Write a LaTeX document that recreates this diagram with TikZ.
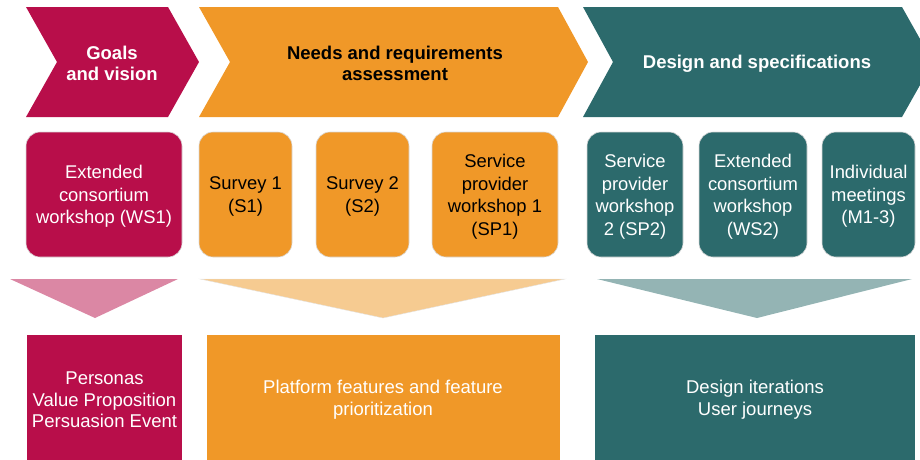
\documentclass[tikz,border=0pt]{standalone}
\usepackage{fontspec}
\setmainfont{Liberation Sans}
\definecolor{crim}{RGB}{184,14,74}
\definecolor{org}{RGB}{240,152,40}
\definecolor{tealc}{RGB}{44,106,108}
\definecolor{lcrim}{RGB}{219,135,164}
\definecolor{lorg}{RGB}{246,203,145}
\definecolor{lteal}{RGB}{148,180,180}
\begin{document}
\begin{tikzpicture}[x=1pt,y=-1pt,
  head/.style={font=\fontsize{18.5}{21.5}\selectfont\bfseries, align=center},
  act/.style={rounded corners=14pt, draw=black!15, line width=0.6pt,
     minimum height=125pt, inner sep=0pt},
  acttext/.style={align=center, font=\fontsize{18.4}{22.5}\selectfont, inner sep=0pt, yshift=-2pt},
  restext/.style={font=\fontsize{18.5}{21.7}\selectfont, align=center, text=white}]
\useasboundingbox (0,0) rectangle (920,459);
% chevrons
\fill[crim] (26,7) -- (168,7) -- (199,62) -- (168,117) -- (26,117) -- (57,62) -- cycle;
\fill[org] (199,7) -- (558,7) -- (588,62) -- (558,117) -- (199,117) -- (230,62) -- cycle;
\fill[tealc] (583,7) -- (902,7) -- (933,62) -- (902,117) -- (583,117) -- (613,62) -- cycle;
\node[head, text=white] (goals) at (112,63.5) {Goals\\and vision};
\node[head, text=black] (needs) at (395,63.5) {Needs and requirements\\assessment};
\node[head, text=white] (design) at (757,63.5) {Design and specifications};
% activity boxes
\node[act, fill=crim, minimum width=156pt] (ws1) at (104,194.5) {};
\node[act, fill=org, minimum width=93pt] (s1) at (245.5,194.5) {};
\node[act, fill=org, minimum width=93pt] (s2) at (362.5,194.5) {};
\node[act, fill=org, minimum width=126pt] (sp1) at (495,194.5) {};
\node[act, fill=tealc, minimum width=96pt] (sp2) at (635,194.5) {};
\node[act, fill=tealc, minimum width=108pt] (ws2) at (753,194.5) {};
\node[act, fill=tealc, minimum width=93pt] (m13) at (868.5,194.5) {};
\node[acttext, text=white] (t1) at (ws1) {Extended\\consortium\\workshop (WS1)};
\node[acttext, text=black] (t2) at (s1) {Survey 1\\(S1)};
\node[acttext, text=black] (t3) at (s2) {Survey 2\\(S2)};
\node[acttext, text=black] (t4) at (sp1) {Service\\provider\\workshop 1\\(SP1)};
\node[acttext, text=white] (t5) at (sp2) {Service\\provider\\workshop\\2 (SP2)};
\node[acttext, text=white] (t6) at (ws2) {Extended\\consortium\\workshop\\(WS2)};
\node[acttext, text=white] (t7) at (m13) {Individual\\meetings\\(M1-3)};
% triangles
\fill[lcrim] (10,279) -- (178,279) -- (95,318) -- cycle;
\filldraw[lorg, draw=black!10] (200,279) -- (565,279) -- (383,318) -- cycle;
\fill[lteal] (597,279) -- (912,279) -- (757,318) -- cycle;
% result boxes
\fill[crim] (27,335) rectangle (182,462);
\fill[org] (207,335) rectangle (560,462);
\fill[tealc] (595,335) rectangle (915,462);
\node[restext] (r1) at (104.5,400) {Personas\\Value Proposition\\Persuasion Event};
\node[restext] (r2) at (383,400) {Platform features and feature\\prioritization};
\node[restext] (r3) at (755,400) {Design iterations\\User journeys};
\end{tikzpicture}
\end{document}
